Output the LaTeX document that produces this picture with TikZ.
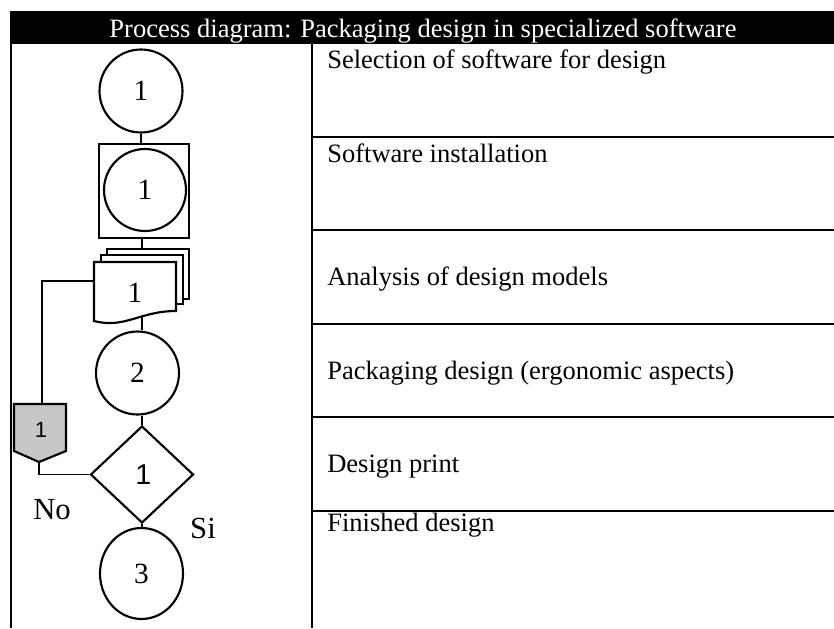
\documentclass[tikz,border=0pt]{standalone}
\usepackage{fontspec}
\setmainfont{Liberation Serif}
\newfontfamily\sansf{Liberation Sans}
\usetikzlibrary{shapes.geometric}
\begin{document}
\begin{tikzpicture}[x=0.75pt,y=-0.75pt,
  lbl/.style={anchor=base west,inner sep=0pt,font=\fontsize{19.9}{24}\selectfont},
  gridln/.style={line width=2pt},
  shp/.style={draw,line width=1.6pt,fill=white},
  conn/.style={line width=0.9pt},
  circ/.style={shp,circle,inner sep=0pt,minimum size=62.25pt,font=\fontsize{22}{24}\selectfont},
  dig/.style={inner sep=0pt,font=\fontsize{22}{24}\selectfont}]
\useasboundingbox (0,0) rectangle (834,628);
% header
\fill[black] (10,11) rectangle (834,44);
\node[anchor=base,inner sep=0pt,text=white,font=\fontsize{19.9}{24}\selectfont] (title) at (423,37) {Process diagram: Packaging design in specialized software};
% table lines
\draw[gridln] (11,44) -- (11,628);
\draw[gridln] (312,44) -- (312,628);
\foreach \yy in {137,230,324,417,511} \draw[gridln] (312,\yy) -- (834,\yy);
% row texts
\node[lbl] (t1) at (327,68.5) {Selection of software for design};
\node[lbl] (t2) at (327,162) {Software installation};
\node[lbl] (t3) at (327,285.5) {Analysis of design models};
\node[lbl] (t4) at (327,379) {Packaging design (ergonomic aspects)};
\node[lbl] (t5) at (327,472.5) {Design print};
\node[lbl] (t6) at (327,531) {Finished design};
% flow shapes
\node[circ] (c1) at (141,91) {1};
\node[shp,inner sep=0pt,minimum width=67.5pt,minimum height=70.5pt] (sq) at (144,191) {};
\node[circ,minimum size=61.5pt] (c1b) at (145,190) {1};
% document stack
\draw[shp] (107,249) rectangle (189,299);
\draw[shp] (101,255) rectangle (183,304);
\draw[shp] (94,262) -- (176,262) -- (176,311) .. controls (140,311) and (125,329) .. (94,321) -- cycle;
\node[dig] (d1) at (135,293) {1};
\coordinate (dtop) at (142,249);
\coordinate (dbot) at (142,317);
\coordinate (dleft) at (94,281);
\node[circ] (c2) at (137.5,373) {2};
% off-page connector
\draw[line width=1.6pt,fill=black!22] (14,404) -- (66,404) -- (66,451) -- (39,462) -- (14,451) -- cycle;
\coordinate (ptop) at (42,404);
\coordinate (ptip) at (39,462);
\node[inner sep=0pt,font=\sansf\fontsize{16.5}{18}\selectfont] (p1) at (41,430) {1};
% decision
\node[shp,diamond,inner sep=0pt,minimum width=77.25pt,minimum height=72.75pt,font=\sansf\fontsize{21.5}{24}\selectfont] (dm) at (142,474.5) {\hspace{2pt}1};
\node[shp,ellipse,inner sep=0pt,minimum width=62.25pt,minimum height=68.25pt,font=\fontsize{22}{24}\selectfont] (c3) at (141.5,573.5) {3};
% connectors
\draw[conn] (c1.south) -- (c1.south |- sq.north);
\draw[conn] (sq.south -| dtop) -- (dtop);
\draw[conn] (dbot) -- (dbot |- c2.north);
\draw[conn] (c2.south -| dm.north) -- (dm.north);
\draw[conn] (dm.south) -- (dm.south |- c3.north);
\draw[conn] (dleft) -| (ptop);
\draw[conn] (ptip) |- (dm.west);
% labels
\node[font=\fontsize{23}{26}\selectfont,inner sep=0pt] (no) at (52,510) {No};
\node[font=\fontsize{23}{26}\selectfont,inner sep=0pt] (si) at (203,528) {Si};
\end{tikzpicture}
\end{document}
